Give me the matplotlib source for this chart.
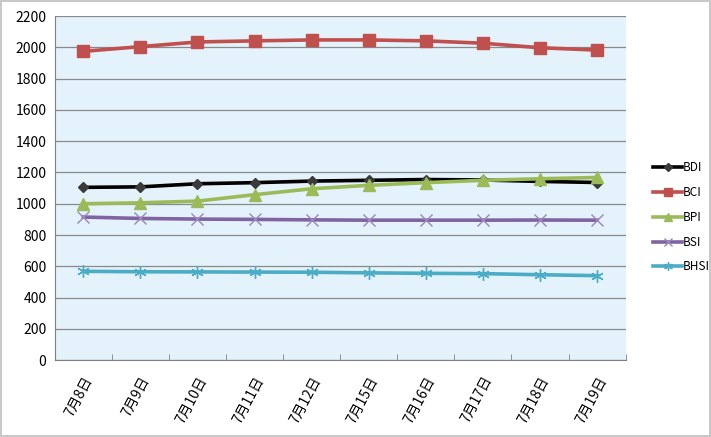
import matplotlib.pyplot as plt
import numpy as np

plt.rcParams['font.family'] = ['Noto Sans CJK SC', 'DejaVu Sans']

dates = ['7月8日', '7月9日', '7月10日', '7月11日', '7月12日',
         '7月15日', '7月16日', '7月17日', '7月18日', '7月19日']
bdi = [1105, 1108, 1128, 1135, 1145, 1150, 1155, 1152, 1143, 1136]
bci = [1975, 2005, 2035, 2042, 2048, 2048, 2042, 2027, 1998, 1983]
bpi = [1000, 1006, 1017, 1058, 1096, 1118, 1135, 1150, 1160, 1168]
bsi = [915, 906, 902, 900, 897, 895, 895, 895, 896, 895]
bhsi = [568, 565, 564, 563, 562, 558, 555, 553, 546, 540]

# name, values, line colour, marker, marker colour, marker size, edge width
series = [
    ('BDI', bdi, '#000000', 'D', '#3a3a3a', 5.5, 1.0),
    ('BCI', bci, '#c0504d', 's', '#c0504d', 8, 1.0),
    ('BPI', bpi, '#9bbb59', '^', '#9bbb59', 8, 1.0),
    ('BSI', bsi, '#8064a2', 'x', '#9a86bd', 9, 1.0),
    ('BHSI', bhsi, '#4bacc6', (6, 2, 0), '#4bacc6', 9, 1.0),
]

fig = plt.figure(figsize=(7.11, 4.37), dpi=100)
fig.patch.set_edgecolor('#c8c8c8')
fig.patch.set_linewidth(1.5)
ax = fig.add_axes([0.077, 0.176, 0.803, 0.787])
ax.set_facecolor('#e4f2fb')

x = np.arange(len(dates))
for name, vals, col, mk, mcol, ms, mew in series:
    ax.plot(x, vals, color=col, lw=2.6, marker=mk, markersize=ms,
            markerfacecolor=mcol, markeredgecolor=mcol, markeredgewidth=mew,
            label=name)

ax.set_xlim(-0.5, len(dates) - 0.5)
ax.set_ylim(0, 2200)
ax.set_yticks(range(0, 2201, 200))
ax.yaxis.grid(True, color='#8a8a8a', lw=0.9)
ax.set_axisbelow(True)
ax.tick_params(axis='y', length=0, labelsize=10, pad=6)

ax.set_xticks(x)
ax.set_xticklabels(dates, rotation=62, ha='right', rotation_mode='anchor', fontsize=10)
ax.set_xticks(np.arange(-0.5, len(dates)), minor=True)
ax.tick_params(axis='x', which='major', length=0, pad=10)
ax.tick_params(axis='x', which='minor', length=4, direction='in', color='#808080')

for s in ['top', 'right']:
    ax.spines[s].set_visible(False)
ax.spines['left'].set_color('#808080')
ax.spines['bottom'].set_color('#808080')

leg = ax.legend(loc='center left', bbox_to_anchor=(1.03, 0.415), frameon=False,
                fontsize=8.5, handlelength=2.4, handletextpad=0.1, labelspacing=1.0,
                markerscale=0.7)

fig.savefig('out.png', dpi=100)
